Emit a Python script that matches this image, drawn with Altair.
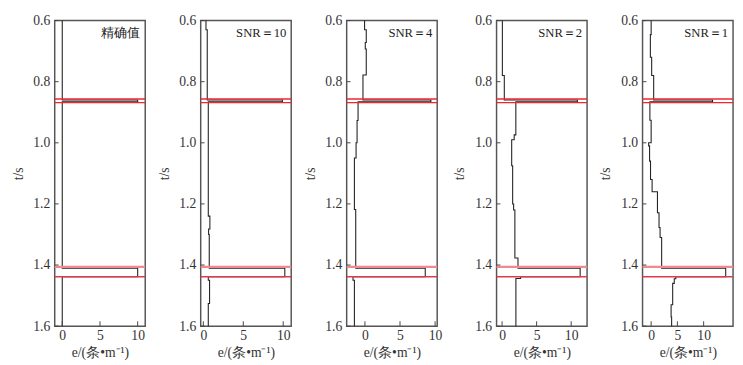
import altair as alt
import pandas as pd

# ---- data ----
labels = ["精确值", "SNR＝10", "SNR＝4", "SNR＝2", "SNR＝1"]

t_exact = [0.6, 0.86, 0.866, 1.41, 1.438, 1.6]
v_exact = [0, 10, 0, 10, 0]

t_snr10 = [0.6, 0.63, 0.86, 0.866, 1.24, 1.282, 1.30, 1.41, 1.438, 1.45, 1.526, 1.6]
v_snr10 = [0.33, 0.49, 9.9, 0.62, 0.82, 0.66, 0.74, 10.2, 0.62, 0.78, 0.62]

t_snr4 = [0.6, 0.63, 0.672, 0.693, 0.778, 0.86, 0.866, 0.927, 1.0, 1.05, 1.218, 1.41, 1.438, 1.45, 1.6]
v_snr4 = [-0.05, 0.19, 0.05, 0.19, -0.28, 9.4, -0.98, -1.12, -1.26, -1.5, -1.31, 8.6, -1.7, -1.5]

t_snr2 = [0.6, 0.78, 0.86, 0.866, 0.974, 0.99, 1.075, 1.2, 1.22, 1.377, 1.41, 1.438, 1.444, 1.6]
v_snr2 = [0.04, 0.32, 10.9, 1.99, 1.75, 1.39, 1.53, 1.67, 1.85, 2.3, 11.3, 2.68, 2.0]

t_snr1 = [0.6, 0.646, 0.72, 0.78, 0.86, 0.866, 0.926, 1.0, 1.01, 1.06, 1.12, 1.16, 1.229, 1.277,
          1.31, 1.41, 1.438, 1.445, 1.46, 1.53, 1.57, 1.6]
v_snr1 = [0.0, -0.15, 0.1, 0.48, 11.7, -0.24, 0.0, -0.48, -0.3, -0.12, 0.18, 1.2, 1.5, 1.7,
          2.0, 14.2, 4.7, 4.4, 4.1, 3.8, 3.9]

x_domains = [[-1.0, 11.0], [-0.33, 11.0], [-2.6, 10.3], [-0.8, 12.3], [-1.64, 15.6]]

boundary_t = [0.857, 0.8685, 1.406, 1.4385]
boundary_color = ["#f0262c", "#f0262c", "#f2898c", "#e23a48"]
boundary_width = [1.5, 1.5, 2.5, 1.5]

y_ticks = [0.6, 0.8, 1.0, 1.2, 1.4, 1.6]
x_ticks = [0, 5, 10]

# ---- layout ----
W, H = 93, 314
FONT = "serif"
yscale = alt.Scale(domain=[0.6, 1.6], reverse=True, nice=False, zero=False)

yaxis = alt.Axis(values=y_ticks, format=".1f", ticks=False, domain=False, grid=False,
                 title="t/s", labelPadding=5, titlePadding=8, labelFlush=False,
                 labelFont=FONT, labelFontSize=14, labelColor="#333",
                 titleFont=FONT, titleFontSize=14, titleFontWeight="normal", titleColor="#333")


def panel(t, v, dom, label):
    rows = []
    k = 0
    for i, val in enumerate(v):
        rows.append({"e": val, "t": t[i], "o": k}); k += 1
        rows.append({"e": val, "t": t[i + 1], "o": k}); k += 1
    df = pd.DataFrame(rows)
    xscale = alt.Scale(domain=dom, nice=False, zero=False)
    xaxis = alt.Axis(values=x_ticks, ticks=False, domain=False, grid=False,
                     title="e/(条•m⁻¹)", labelPadding=3, titlePadding=3,
                     labelFont=FONT, labelFontSize=14, labelColor="#333",
                     titleFont=FONT, titleFontSize=14, titleFontWeight="normal", titleColor="#333")

    line = alt.Chart(df).mark_line(color="#222", strokeWidth=1.1).encode(
        x=alt.X("e:Q", scale=xscale, axis=xaxis),
        y=alt.Y("t:Q", scale=yscale, axis=yaxis),
        order="o:Q",
    )
    bdf = pd.DataFrame({"t": boundary_t, "c": boundary_color, "w": boundary_width})
    red = alt.Chart(bdf).mark_rule().encode(
        y=alt.Y("t:Q", scale=yscale, axis=yaxis),
        x=alt.value(0), x2=alt.value(W),
        color=alt.Color("c:N", scale=None),
        strokeWidth=alt.StrokeWidth("w:Q", scale=None),
    )
    ytk = alt.Chart(pd.DataFrame({"t": y_ticks})).mark_rule(color="#444", strokeWidth=1).encode(
        y=alt.Y("t:Q", scale=yscale, axis=yaxis),
        x=alt.value(0), x2=alt.value(4),
    )
    xtk = alt.Chart(pd.DataFrame({"e": x_ticks})).mark_rule(color="#444", strokeWidth=1).encode(
        x=alt.X("e:Q", scale=xscale, axis=xaxis),
        y=alt.value(H), y2=alt.value(H - 5),
    )
    txt = alt.Chart(pd.DataFrame({"lab": [label]})).mark_text(
        align="right", baseline="middle", fontSize=13, color="#222", font=FONT
    ).encode(text="lab:N", x=alt.value(W - 5), y=alt.value(13))
    return alt.layer(line, red, ytk, xtk, txt).properties(
        width=W, height=H, view=alt.ViewConfig(stroke="#555", strokeWidth=1.5)
    )


series = [(t_exact, v_exact), (t_snr10, v_snr10), (t_snr4, v_snr4), (t_snr2, v_snr2), (t_snr1, v_snr1)]
panels = [panel(t, v, d, lab) for (t, v), d, lab in zip(series, x_domains, labels)]

chart = alt.hconcat(*panels, spacing=9).properties(
    padding={"left": 2, "top": 0, "right": 0, "bottom": 0}
).configure(
    background="white", font=FONT
).configure_view(
    stroke="#555", strokeWidth=1.5
)

chart.save("out.html", embed_options={"renderer": "svg", "actions": False})
